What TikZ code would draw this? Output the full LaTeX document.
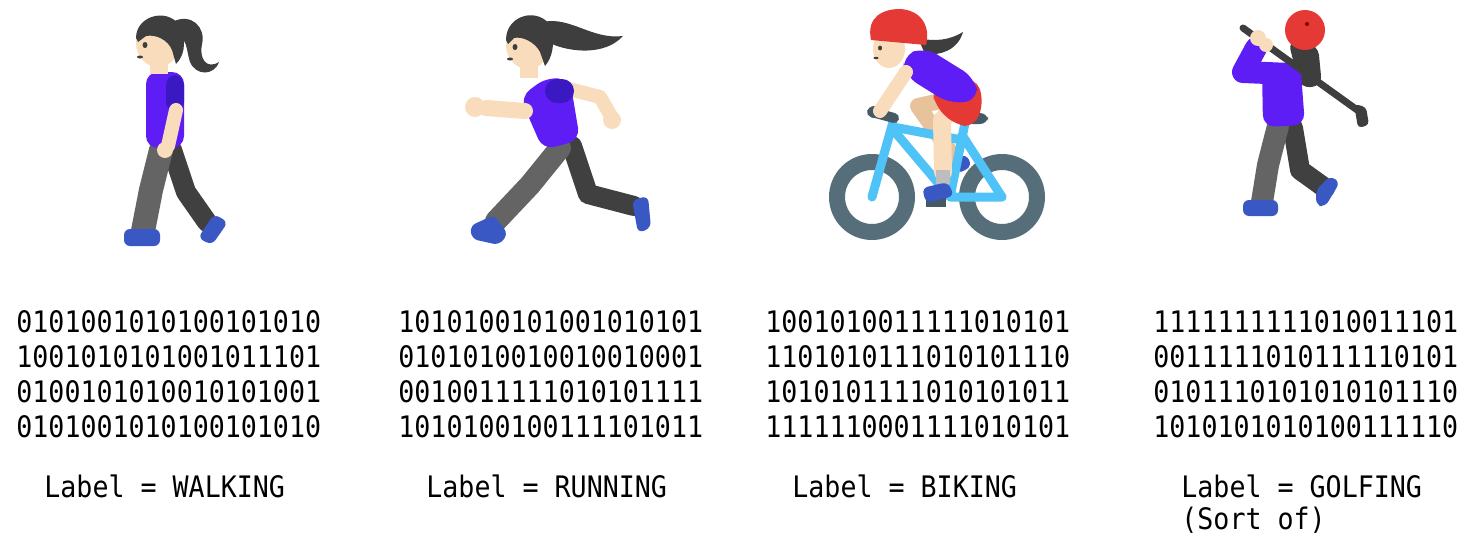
\documentclass[tikz,border=0pt]{standalone}
\usepackage{fontspec}
\newfontfamily\binfont[FakeStretch=0.9]{DejaVu Sans Mono}
\definecolor{hairc}{HTML}{3E3E3E}
\definecolor{skinc}{HTML}{F9DCBC}
\definecolor{skindk}{HTML}{E8C29A}
\definecolor{shirtc}{HTML}{5F1DF6}
\definecolor{sleevec}{HTML}{3A19C2}
\definecolor{pantsc}{HTML}{646464}
\definecolor{pantsdk}{HTML}{404040}
\definecolor{shoec}{HTML}{3958C4}
\definecolor{redc}{HTML}{E53935}
\definecolor{framec}{HTML}{4FC3F7}
\definecolor{wheelc}{HTML}{566E7A}
\definecolor{barc}{HTML}{455A64}
\definecolor{sockc}{HTML}{BDBDBD}
\tikzset{
  bits/.style={font=\binfont\fontsize{14.8}{17.5}\selectfont, align=left, anchor=base west, inner sep=0pt},
  tag/.style={font=\binfont\fontsize{14.8}{16}\selectfont, align=left, anchor=base west, inner sep=0pt},
  limb/.style={line cap=round, line join=round},
  hair/.style={fill=hairc},
  skin/.style={fill=skinc},
  shirt/.style={fill=shirtc},
  shoe/.style={fill=shoec, rounded corners=3pt},
}
\begin{document}
\begin{tikzpicture}[x=0.5pt, y=-0.5pt]
\useasboundingbox (0,0) rectangle (1467,536);

% ---------- walking ----------
\fill[hair] (172,22) .. controls (192,12) and (206,28) .. (202,44) .. controls (199,58) and (206,70) .. (219,62) .. controls (214,76) and (196,76) .. (190,62) .. controls (186,50) and (188,36) .. (174,36) -- cycle;
\draw[limb, pantsdk, line width=10pt] (172,150) -- (186,192) -- (207,222);
\draw[limb, pantsc, line width=12pt] (161,150) -- (151,190) -- (143,231);
\fill[shoe] (124,229) rectangle (160,246);
\fill[shoe] (198,238) -- (214,214) -- (228,222) -- (212,245) -- cycle;
\fill[shirt, rounded corners=6pt] (146,72) rectangle (184,148);
\fill[sleevec, rounded corners=5pt] (166,75) rectangle (184,112);
\draw[limb, skinc, line width=7pt] (176,110) -- (168,146);
\fill[skin] (165,150) circle (8);
\fill[skin] (150,56) rectangle (168,74);
\fill[skin] (158,43) ellipse (22 and 24);
\fill[hair] (136,38) .. controls (136,14) and (172,6) .. (182,30) .. controls (186,44) and (184,56) .. (176,64) -- (172,50) .. controls (168,40) and (156,34) .. (146,36) -- (138,42) -- cycle;
\fill[hairc] (145,45) ellipse (2.5 and 3);
\fill[hairc] (140,57) ellipse (3 and 1.5);

% ---------- running ----------
\fill[hair] (543,22) .. controls (570,16) and (592,40) .. (623,36) .. controls (605,56) and (570,52) .. (552,44) -- cycle;
\draw[limb, skinc, line width=7pt] (565,88) -- (600,97) -- (611,116);
\fill[skin] (612,120) circle (9);
\draw[limb, pantsdk, line width=10pt] (572,146) -- (588,194) -- (634,206);
\fill[shoe] (632,200) -- (648,196) -- (651,228) -- (638,233) -- cycle;
\draw[limb, pantsc, line width=11pt] (560,148) -- (530,185) -- (496,221);
\fill[shoe] (470,226) -- (494,215) -- (508,234) -- (499,245) -- (472,239) -- cycle;
\fill[shirt, rounded corners=6pt] (520,97) -- (547,77) -- (570,80) -- (580,140) -- (543,150) -- cycle;
\fill[sleevec, rounded corners=6pt] (545,79) rectangle (574,103);
\draw[limb, skinc, line width=8pt] (525,111) -- (486,108);
\fill[skin] (475,107) circle (10);
\fill[skin] (520,60) rectangle (538,78);
\fill[skin] (528,45) ellipse (22 and 24);
\fill[hair] (506,40) .. controls (506,14) and (540,6) .. (552,28) .. controls (555,45) and (552,58) .. (545,66) -- (540,52) .. controls (535,42) and (522,36) .. (514,38) -- (508,44) -- cycle;
\fill[hairc] (515,47) ellipse (2.5 and 3);
\fill[hairc] (510,59) ellipse (3 and 1.5);

% ---------- biking ----------
\draw[wheelc, line width=8pt] (872,197) circle (35);
\draw[wheelc, line width=8pt] (1002,197) circle (35);
\fill[hair] (918,38) .. controls (935,42) and (950,40) .. (963,32) .. controls (958,50) and (940,56) .. (925,54) -- cycle;
\draw[limb, skindk, line width=8pt] (945,100) -- (918,106) -- (958,163);
\fill[shoe] (952,160) -- (966,154) -- (972,166) -- (958,174) -- cycle;
\draw[limb, framec, line width=4.5pt] (872,197) -- (893,122)
  (893,127) -- (962,140) (895,132) -- (950,197) -- (1002,197) -- (962,135)
  (966,118) -- (950,197);
\fill[barc, rounded corners=4pt] (960,113) rectangle (988,124);
\draw[limb, barc, line width=5pt] (872,112) -- (894,118);
\fill[barc] (874,112) circle (6);
\draw[limb, skinc, line width=9pt] (958,104) -- (942,120) -- (943,172);
\fill[sockc] (936,170) rectangle (950,184);
\fill[barc] (926,198) rectangle (946,207);
\fill[shoe] (922,188) -- (948,182) -- (954,196) -- (926,203) -- cycle;
\fill[redc, rounded corners=6pt] (932,88) -- (975,77) -- (984,100) -- (975,127) -- (955,125) -- (935,106) -- cycle;
\fill[shirt, rounded corners=7pt] (902,56) -- (925,47) -- (975,78) -- (979,100) -- (950,104) -- (905,76) -- cycle;
\draw[limb, skinc, line width=7pt] (906,72) -- (880,111);
\fill[skin] (889,49) ellipse (16 and 19);
\fill[hairc] (880,48) ellipse (2 and 2.5);
\fill[hairc] (876,58) ellipse (2.5 and 1.2);
\fill[redc] (871,40) .. controls (866,16) and (884,9) .. (900,9) .. controls (920,10) and (931,25) .. (926,45) -- cycle;

% ---------- golfing ----------
\draw[limb, pantsdk, line width=10pt] (1293,128) -- (1300,170) -- (1325,188);
\fill[shoe] (1316,190) -- (1330,176) -- (1340,182) -- (1325,207) -- (1316,205) -- cycle;
\draw[limb, pantsc, line width=11pt] (1278,126) -- (1268,165) -- (1262,202);
\fill[shoe] (1243,200) rectangle (1278,216);
\fill[hair, rounded corners=5pt] (1288,40) -- (1318,45) -- (1322,86) -- (1300,88) -- cycle;
\fill[shirt, rounded corners=6pt] (1262,68) -- (1300,60) -- (1305,125) -- (1263,127) -- cycle;
\draw[limb, shirtc, line width=11pt] (1290,74) -- (1243,72) -- (1256,48);
\fill[redc] (1305,30) circle (20);
\fill[red!50!black] (1307,24) circle (2);
\draw[limb, hairc, line width=3.5pt] (1243,28) -- (1360,112);
\fill[hairc, rounded corners=2pt] (1354,104) -- (1366,107) -- (1369,125) -- (1358,128) -- cycle;
\fill[skin] (1258,38) circle (8);
\fill[skin] (1266,45) circle (7);

% ---------- bit strings (anchor sits on the last line) ----------
\node[bits] (walkbits) at (16,437) {0101001010100101010\\1001010101001011101\\0100101010010101001\\0101001010100101010};
\node[bits] (runbits) at (398,437) {1010100101001010101\\0101010010010010001\\0010011111010101111\\1010100100111101011};
\node[bits] (bikebits) at (765,437) {1001010011111010101\\1101010111010101110\\1010101111010101011\\1111110001111010101};
\node[bits] (golfbits) at (1153,437) {1111111111010011101\\0011111010111110101\\0101110101010101110\\1010101010100111110};

% ---------- labels ----------
\node[tag] (walklabel) at (44,497) {Label = WALKING};
\node[tag] (runlabel) at (426,497) {Label = RUNNING};
\node[tag] (bikelabel) at (792,497) {Label = BIKING};
\node[tag] (golflabel) at (1181,529) {Label = GOLFING\\(Sort of)};
\end{tikzpicture}
\end{document}
